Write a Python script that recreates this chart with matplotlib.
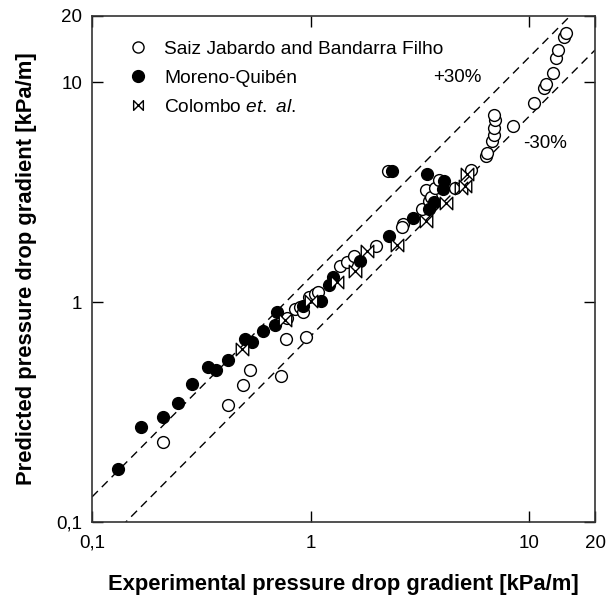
import matplotlib
matplotlib.use('Agg')
import matplotlib.pyplot as plt
from matplotlib.path import Path
from matplotlib.lines import Line2D

plt.rcParams['font.family'] = ['Liberation Sans', 'DejaVu Sans']
plt.rcParams['mathtext.fontset'] = 'custom'
plt.rcParams['mathtext.rm'] = 'Liberation Sans'
plt.rcParams['mathtext.it'] = 'Liberation Sans:italic'

# Saiz Jabardo and Bandarra Filho (open circles): experimental, predicted [kPa/m]
saiz_x = [0.211, 0.421, 0.492, 0.528, 0.733, 0.772, 0.78, 0.953, 0.85, 0.894, 0.92,
          0.986, 1.05, 1.08, 1.36, 1.47, 1.585, 1.99, 2.25, 2.66, 2.62, 3.22,
          3.37, 3.47, 3.56, 3.71, 3.88, 4.57, 5.40, 6.34, 6.39, 6.74, 6.87,
          6.87, 7.0, 6.87, 8.45, 10.5, 11.7, 11.9, 12.9, 13.2, 13.5, 14.4, 14.7]
saiz_y = [0.230, 0.342, 0.420, 0.493, 0.461, 0.676, 0.85, 0.693, 0.93, 0.948, 0.90,
          1.05, 1.09, 1.11, 1.46, 1.52, 1.62, 1.80, 3.94, 2.26, 2.20, 2.64,
          3.23, 2.89, 3.02, 3.31, 3.61, 3.31, 3.98, 4.61, 4.75, 5.39, 5.78,
          6.19, 6.71, 7.12, 6.35, 8.04, 9.40, 9.84, 11.0, 12.9, 14.0, 16.1, 16.8]

# Moreno-Quibén (filled circles)
moreno_x = [0.131, 0.167, 0.212, 0.248, 0.288, 0.340, 0.37, 0.418, 0.501, 0.54,
            0.608, 0.69, 0.700, 0.92, 1.11, 1.21, 1.27, 1.68, 2.29, 2.35, 2.95,
            3.40, 3.47, 3.66, 4.03, 4.07]
moreno_y = [0.174, 0.271, 0.299, 0.348, 0.422, 0.507, 0.49, 0.547, 0.681, 0.66,
            0.738, 0.789, 0.90, 0.96, 1.01, 1.19, 1.30, 1.54, 1.99, 3.94, 2.42,
            3.84, 2.66, 2.85, 3.26, 3.55]

# Colombo et. al. (bowtie markers)
colombo_x = [0.485, 0.764, 1.0, 1.32, 1.59, 1.81, 2.49, 3.37, 4.15, 4.87, 5.1, 5.17]
colombo_y = [0.61, 0.825, 1.01, 1.23, 1.39, 1.71, 1.81, 2.34, 2.81, 3.31, 3.37, 3.81]

tick_vals = [0.1, 1, 10, 20]
tick_text = ['0,1', '1', '10', '20']

bowtie = Path([(-1, 1), (-1, -1), (1, 1), (1, -1), (-1, 1)],
              [Path.MOVETO, Path.LINETO, Path.LINETO, Path.LINETO, Path.CLOSEPOLY])

fig = plt.figure(figsize=(6.12, 5.99), dpi=100)
ax = fig.add_axes([92 / 612, 1 - 522 / 599, 503 / 612, 506 / 599])
ax.set_xscale('log')
ax.set_yscale('log')
ax.set_xlim(0.1, 20)
ax.set_ylim(0.1, 20)

# +/-30% lines
ax.plot([0.1, 20], [0.13, 26], color='black', lw=1.0, ls=(0, (6, 4)), zorder=1)
ax.plot([0.1, 20], [0.07, 14], color='black', lw=1.0, ls=(0, (6, 4)), zorder=1)

ax.plot(saiz_x, saiz_y, 'o', ms=8.5, mfc='white', mec='black', mew=1.0, zorder=2)
ax.plot(moreno_x, moreno_y, 'o', ms=8.5, mfc='black', mec='black', zorder=3)
ax.plot(colombo_x, colombo_y, ls='none', marker=bowtie, ms=9, mfc='white',
        mec='black', mew=1.0, zorder=4)

ax.set_xticks(tick_vals)
ax.set_xticklabels(tick_text)
ax.set_yticks(tick_vals)
ax.set_yticklabels(tick_text)
ax.minorticks_off()
ax.tick_params(direction='in', length=8, width=1, top=True, right=True,
               labelsize=13.5)
ax.tick_params(axis='x', pad=9)
ax.tick_params(axis='y', pad=7)
for s in ax.spines.values():
    s.set_linewidth(1.2)
    s.set_color('#333333')

ax.set_xlabel('Experimental pressure drop gradient [kPa/m]', fontsize=15.8,
              fontweight='bold', labelpad=16)
ax.set_ylabel('Predicted pressure drop gradient [kPa/m]', fontsize=15.8,
              fontweight='bold', labelpad=14)

ax.text(0.726, 0.879, '+30%', transform=ax.transAxes, fontsize=13.5,
        ha='center', va='center')
ax.text(0.90, 0.749, '-30%', transform=ax.transAxes, fontsize=13.5,
        ha='center', va='center')

handles = [
    Line2D([], [], ls='none', marker='o', ms=8, mfc='white', mec='black'),
    Line2D([], [], ls='none', marker='o', ms=8.5, mfc='black', mec='black'),
    Line2D([], [], ls='none', marker=bowtie, ms=7, mfc='white', mec='black'),
]
labels = ['Saiz Jabardo and Bandarra Filho', 'Moreno-Quibén',
          r'Colombo $\mathit{et.\ al.}$']
ax.legend(handles, labels, loc='upper left', bbox_to_anchor=(0.058, 0.967),
          frameon=False, fontsize=13.8, handlelength=1.0, handletextpad=0.85,
          labelspacing=0.6, borderaxespad=0)

fig.savefig('out.png', dpi=100, facecolor='white')
